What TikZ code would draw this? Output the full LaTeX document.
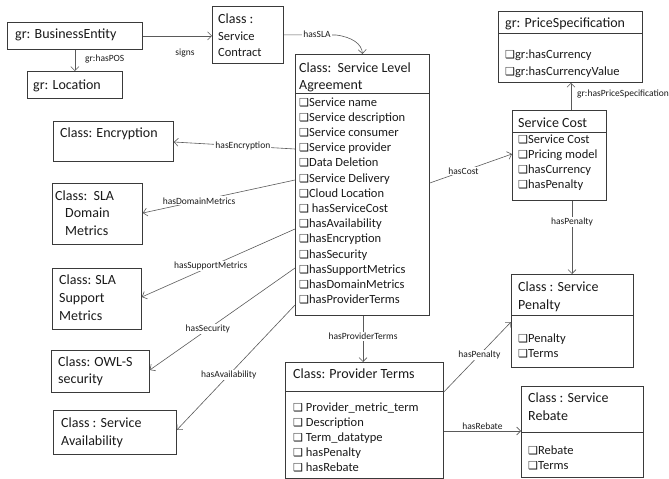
\documentclass[tikz,border=0pt]{standalone}
\usepackage{fontspec}
\setmainfont{Carlito}
\newfontfamily\symf{DejaVu Sans}
\usetikzlibrary{arrows.meta}
\newcommand\cbx{{\symf\bfseries\fontsize{11}{10}\selectfont\char"2751}}
\definecolor{boxc}{HTML}{3A3A3A}
\definecolor{linec}{HTML}{5A5A5A}
\definecolor{txt}{HTML}{1A1A1A}
\begin{document}
\begin{tikzpicture}[x=1pt,y=-1pt,
 cls/.style={draw=boxc, line width=0.8pt, anchor=north west, inner sep=0pt, fill=white},
 ttl/.style={anchor=base west, inner sep=0pt, font=\fontsize{14}{16}\selectfont, text=txt},
 itm/.style={anchor=base west, inner sep=0pt, font=\fontsize{12.5}{15}\selectfont, text=txt},
 sml/.style={anchor=base west, inner sep=0pt, font=\fontsize{12.5}{15}\selectfont, text=txt},
 conn/.style={draw=linec, line width=0.6pt, -{Straight Barb[length=4pt,width=8pt]}},
 lbl/.style={font=\fontsize{9.5}{11}\selectfont, text=txt, inner sep=1pt, fill=white},
 divl/.style={draw=boxc, line width=0.8pt},
]
\useasboundingbox (0,0) rectangle (669,479);

% ---------- boxes ----------
\node[cls, minimum width=135pt, minimum height=27pt] (be) at (7,22) {};
\node[ttl] (bet) at (15,38.5) {gr: BusinessEntity};

\node[cls, minimum width=95pt, minimum height=27pt] (loc) at (27,71) {};
\node[ttl] (loct) at (33,89) {gr: Location};

\node[cls, minimum width=71pt, minimum height=57pt] (sc) at (212,6) {};
\node[ttl] (sct1) at (218,23.5) {Class :};
\node[sml] (sct2) at (218,40) {Service};
\node[sml] (sct3) at (218,56) {Contract};

\node[cls, minimum width=134pt, minimum height=261pt] (sla) at (295,54) {};
\draw[divl] (sla.west |- 0,93) -- (sla.east |- 0,93);
\node[ttl] (slat1) at (299,72) {Class:\ \ Service Level};
\node[ttl] (slat2) at (299,89) {Agreement};
\foreach \t [count=\i from 0] in {Service name,Service description,Service consumer,Service provider,Data Deletion,Service Delivery,Cloud Location,\ hasServiceCost,hasAvailability,hasEncryption,hasSecurity,hasSupportMetrics,hasDomainMetrics,hasProviderTerms}
  \node[itm, name=sla\i] at (299,{106+15.2*\i}) {\cbx\t};

\node[cls, minimum width=144pt, minimum height=71pt] (price) at (498,11) {};
\draw[divl] (price.west |- 0,33) -- (price.east |- 0,33);
\node[ttl] (pricet) at (505,27.5) {gr: PriceSpecification};
\node[itm] (price0) at (505,58) {\cbx gr:hasCurrency};
\node[itm] (price1) at (505,75) {\cbx gr:hasCurrencyValue};

\node[cls, minimum width=94pt, minimum height=90pt] (cost) at (512,110) {};
\draw[divl] (cost.west |- 0,132) -- (cost.east |- 0,132);
\node[ttl] (costt) at (518,127.5) {Service Cost};
\foreach \t [count=\i from 0] in {Service Cost,Pricing model,hasCurrency,hasPenalty}
  \node[itm, name=cost\i] at (518,{143+15.2*\i}) {\cbx\t};

\node[cls, minimum width=122pt, minimum height=93pt] (pen) at (511,274) {};
\draw[divl] (pen.west |- 0,315) -- (pen.east |- 0,315);
\node[ttl] (pent1) at (518,291.5) {Class : Service};
\node[ttl] (pent2) at (518,309.5) {Penalty};
\node[itm] (pen0) at (518,342) {\cbx Penalty};
\node[itm] (pen1) at (518,357) {\cbx Terms};

\node[cls, minimum width=122pt, minimum height=91pt] (reb) at (521,386) {};
\draw[divl] (reb.west |- 0,432) -- (reb.east |- 0,432);
\node[ttl] (rebt1) at (528,402.5) {Class : Service};
\node[ttl] (rebt2) at (528,420.5) {Rebate};
\node[itm] (reb0) at (528,454) {\cbx Rebate};
\node[itm] (reb1) at (528,469) {\cbx Terms};

\node[cls, minimum width=158pt, minimum height=116pt] (pt) at (285,362) {};
\draw[divl] (pt.west |- 0,391) -- (pt.east |- 0,391);
\node[ttl] (ptt) at (293,378.5) {Class: Provider Terms};
\foreach \t [count=\i from 0] in {Provider\_metric\_term,Description,Term\_datatype,hasPenalty,hasRebate}
  \node[itm, name=pt\i] at (293,{411+15*\i}) {\cbx\ \t};

\node[cls, minimum width=120pt, minimum height=40pt] (enc) at (53,121) {};
\node[ttl] (enct) at (60,137.5) {Class: Encryption};

\node[cls, minimum width=90pt, minimum height=61pt] (dom) at (52,183) {};
\node[ttl] (domt1) at (55,200.5) {Class:\ \ SLA};
\node[ttl] (domt2) at (65,217.5) {Domain};
\node[ttl] (domt3) at (65,235.5) {Metrics};

\node[cls, minimum width=89pt, minimum height=61pt] (sup) at (52,268) {};
\node[ttl] (supt1) at (59,284.5) {Class: SLA};
\node[ttl] (supt2) at (59,302.5) {Support};
\node[ttl] (supt3) at (59,320.5) {Metrics};

\node[cls, minimum width=98pt, minimum height=42pt] (owl) at (51,350) {};
\node[ttl] (owlt1) at (58,366.5) {Class: OWL-S};
\node[ttl] (owlt2) at (58,383.5) {security};

\node[cls, minimum width=123pt, minimum height=44pt] (av) at (53,410) {};
\node[ttl] (avt1) at (61,427.5) {Class : Service};
\node[ttl] (avt2) at (61,445.5) {Availability};

% ---------- connectors ----------
\draw[conn] (be) -- (loc);
\node[lbl, fill=none, anchor=west] (lpos) at (84,59) {gr:hasPOS};

\draw[conn] (be.east) -- (be.east -| sc.west);
\node[lbl, fill=none] (lsigns) at (185,53) {signs};

\draw[conn] (sc.east) -- (336,35) .. controls (352,37) and (362,44) .. (sla.north);
\node[lbl] (lsla) at (317,34) {hasSLA};

\draw[conn] (sla.west |- 0,149) -- node[lbl, pos=0.43] (lenc) {hasEncryption} (enc.east |- 0,142);
\draw[conn] (sla.west |- 0,180) -- node[lbl, pos=0.63] (ldom) {hasDomainMetrics} (dom.east |- 0,213);
\draw[conn] (sla.west |- 0,229) -- node[lbl, pos=0.55] (lsup) {hasSupportMetrics} (sup.east |- 0,297);
\draw[conn] (sla.west |- 0,268) -- node[lbl, pos=0.6] (lowl) {hasSecurity} (owl.east |- 0,370);
\draw[conn] (sla.west |- 0,305) -- node[lbl, pos=0.56] (lav) {hasAvailability} (av.east |- 0,430);

\draw[conn] (sla.east |- 0,183) -- node[lbl, pos=0.41] (lcost) {hasCost} (cost.west |- 0,154);
\draw[conn] (cost.north -| 571,0) -- (price.south -| 571,0);
\node[lbl, fill=none, anchor=west] (lprice) at (576,94) {gr:hasPriceSpecification};
\draw[conn] (cost.south -| 572,0) -- node[lbl, pos=0.29] (lpen1) {hasPenalty} (pen.north -| 572,0);

\draw[conn] (sla.south -| 363,0) -- node[lbl, pos=0.45] (lpt) {hasProviderTerms} (pt.north -| 363,0);
\draw[conn] (pt.east |- 0,392) -- node[lbl, pos=0.53] (lpen2) {hasPenalty} (pen.west |- 0,322);
\draw[conn] (pt.east |- 0,431) -- node[lbl, fill=none, above, pos=0.5] (lreb) {hasRebate} (reb.west |- 0,431);
\end{tikzpicture}
\end{document}
